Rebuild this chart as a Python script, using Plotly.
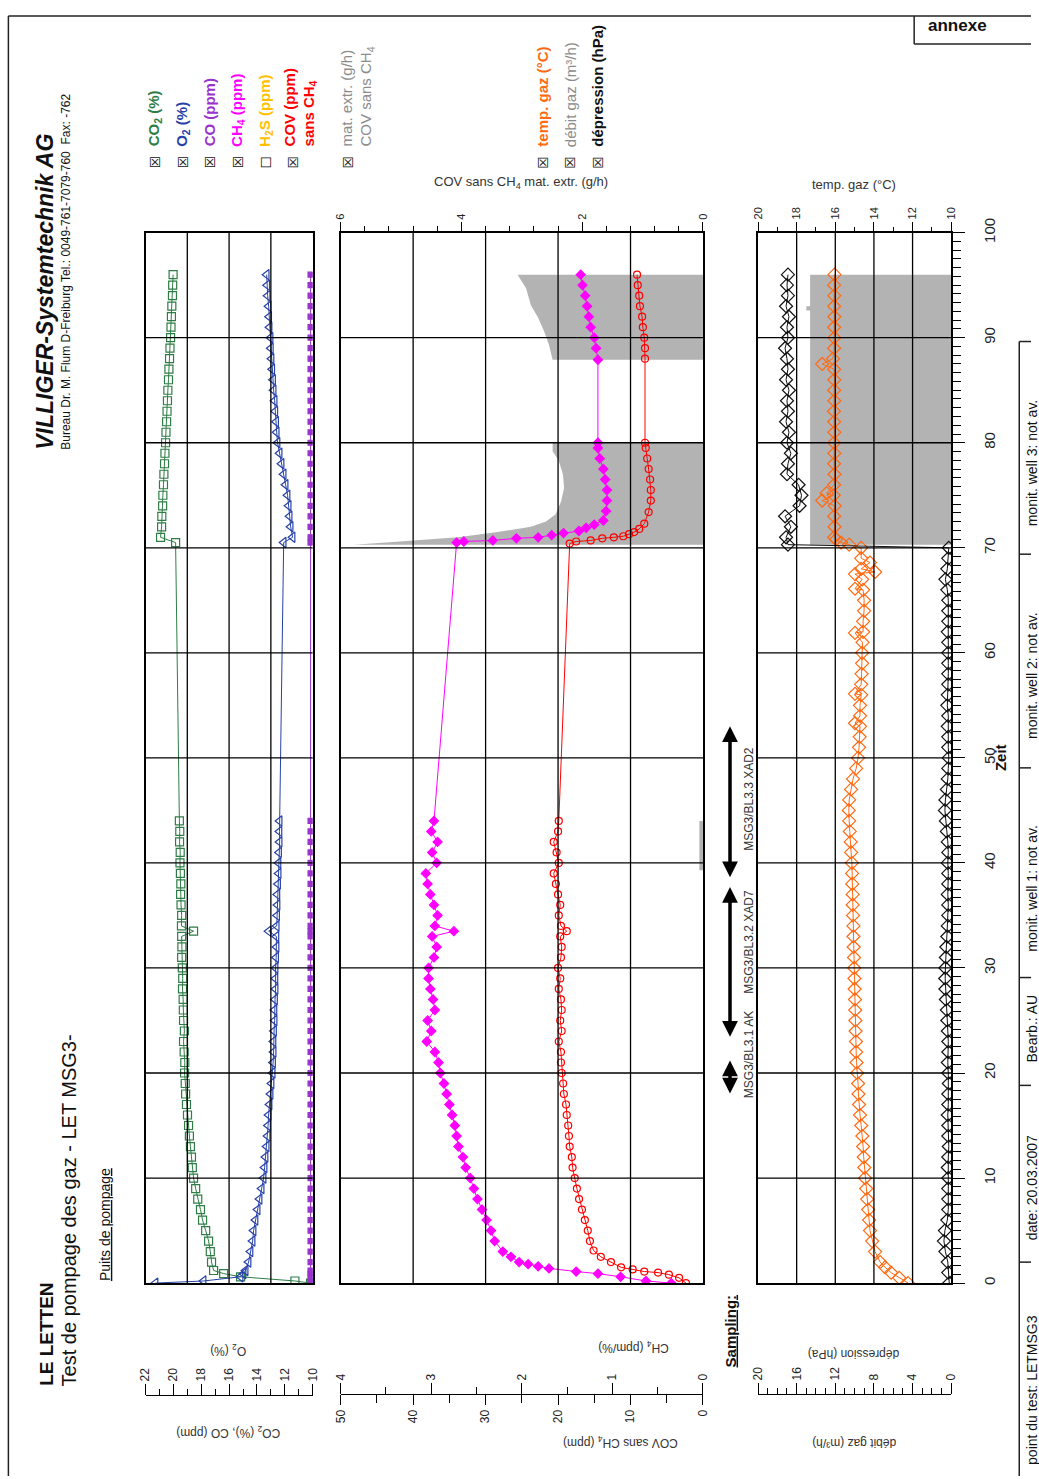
import plotly.graph_objects as go

W, H = 1039, 1479
# the sheet is laid out in sheet pixels; this maps them onto the figure canvas
AX, BX = 0.9857, 6.6
AY, BY = 0.990, 13.0
FONT = "Liberation Sans, Arial, Helvetica, sans-serif"
SYM = "DejaVu Sans, sans-serif"


def px(x):
    return min(max((x - BX) / AX, 0), W) / W


def py(y):
    return 1 - min(max((y - BY) / AY, 0), H) / H


TIME_DOM = [py(1283), py(231)]

# ---------------- gas composition at the pumping well ----------------
t_gas = [0, 0.2, 0.6, 0.9, 1.2, 2, 3, 4, 5, 6, 7, 8, 9, 10, 11, 12, 13, 14, 15, 16,
         17, 18, 19, 20, 21, 22, 23, 24, 25, 26, 27, 28, 29, 30, 31, 32, 33, 33.5, 34, 35,
         36, 37, 38, 39, 40, 41, 42, 43, 44, 70.5, 71, 72, 73, 74, 75, 76, 77, 78, 79, 80,
         81, 82, 83, 84, 85, 86, 87, 88, 89, 90, 91, 92, 93, 94, 95, 96]
co2 = [0.10, 0.85, 3.45, 4.26, 4.74,
       4.84, 4.90, 4.98, 5.12, 5.27, 5.37, 5.50, 5.60, 5.70, 5.76,
       5.80, 5.85, 5.90, 5.94, 5.99, 6.04, 6.08, 6.10, 6.13, 6.12,
       6.15, 6.18, 6.14, 6.18, 6.19, 6.20, 6.23, 6.22, 6.24, 6.27,
       6.26, 6.27, 5.70,
       6.28, 6.27, 6.30, 6.32, 6.31, 6.33, 6.35, 6.34, 6.37, 6.36, 6.38,
       6.56,
       7.28, 7.23, 7.22, 7.18, 7.17, 7.14, 7.12, 7.09, 7.07, 7.04,
       7.02, 6.99, 6.97, 6.95, 6.93, 6.90, 6.88, 6.85, 6.83, 6.80,
       6.78, 6.76, 6.74, 6.71, 6.70, 6.68]
o2 = [21.28, 17.83, 15.17, 14.96, 14.81,
      14.60, 14.46, 14.31, 14.24, 14.10, 13.95, 13.81, 13.66, 13.52, 13.45,
      13.38, 13.30, 13.23, 13.20, 13.16, 13.09, 13.02, 12.95, 12.87, 12.84,
      12.80, 12.81, 12.77, 12.73, 12.74, 12.70, 12.66, 12.67, 12.66, 12.62,
      12.59, 12.60, 13.16,
      12.58, 12.55, 12.52, 12.53, 12.48, 12.44, 12.45, 12.41, 12.37, 12.38, 12.37,
      12.08,
      11.44, 11.58, 11.65, 11.72, 11.80, 11.94, 12.08, 12.23, 12.37, 12.52,
      12.58, 12.62, 12.68, 12.73, 12.80, 12.84, 12.90, 12.95, 13.00, 13.02,
      13.09, 13.12, 13.16, 13.23, 13.26, 13.30]
co = [0.10, 0.10, 0.10, 0.10, 0.10, 0.10, 0.10, 0.10, 0.10, 0.10, 0.10, 0.10, 0.10, 0.10,
      0.10, 0.10, 0.10, 0.10, 0.10, 0.10, 0.10, 0.10, 0.10, 0.10, 0.10, 0.10, 0.10, 0.10,
      0.10, 0.10, 0.10, 0.10, 0.10, 0.10, 0.10, 0.10, 0.10, 0.10, 0.10, 0.10, 0.10, 0.10,
      0.10, 0.10, 0.10, 0.10, 0.10, 0.10, 0.10, 0.10, 0.10, 0.10, 0.10, 0.10, 0.10, 0.10,
      0.10, 0.10, 0.10, 0.10, 0.10, 0.10, 0.10, 0.10, 0.10, 0.10, 0.10, 0.10, 0.10, 0.10,
      0.10, 0.10, 0.10, 0.10, 0.10, 0.10]

# ---------------- CH4 and VOC ----------------
t_ch4 = [0, 0.2, 0.6, 0.9, 1.1, 1.4, 1.6, 1.8, 2.0, 2.5,
         3, 4, 5, 6, 7, 8, 9, 10, 11, 12, 13, 14, 15, 16, 17, 18, 19, 20, 21, 22,
         23, 24, 25, 26, 27, 28, 29, 30, 31, 32, 33, 33.5, 34, 35, 36, 37, 38, 39, 40, 41,
         42, 43, 44,
         70.5, 70.6, 70.7, 70.9, 71.0, 71.2, 71.4, 71.6, 71.9, 72.2, 72.6, 73.5, 74.5, 75.5,
         76.5, 77.5, 78.5, 79.5, 80, 87.9, 89, 90, 91, 92, 93, 94, 95, 96]
ch4 = [0.35, 0.63, 0.91, 1.16, 1.40, 1.70, 1.82, 1.93, 2.03, 2.12,
       2.21, 2.30, 2.34, 2.39, 2.44, 2.49, 2.53, 2.57, 2.62, 2.65,
       2.70, 2.72, 2.74, 2.77, 2.80, 2.83, 2.86, 2.90, 2.92, 2.96,
       3.05, 3.00, 3.04, 2.96, 2.98, 3.01, 3.03, 3.03, 2.97, 2.94,
       2.99, 2.75,
       2.96, 2.93, 2.97, 3.01, 3.04, 3.06, 2.94, 2.99, 2.93, 3.00, 2.97,
       2.72, 2.64, 2.32, 2.06, 1.82, 1.67, 1.54, 1.37, 1.29, 1.20, 1.10, 1.07, 1.06, 1.06,
       1.08, 1.10, 1.14, 1.16, 1.16, 1.16, 1.18, 1.20, 1.24, 1.26, 1.28, 1.30, 1.33, 1.35]

t_cov = [0, 0.5, 0.8, 1.0, 1.1, 1.3, 1.5, 2.0, 2.5, 3.1,
         4, 5, 6, 7, 8, 9, 10, 11, 12, 13, 14, 15, 16, 17, 18, 19, 20, 21, 22, 23,
         24, 25, 26, 27, 28, 29, 30, 31, 32, 33, 33.5, 34, 35, 36, 37, 38, 39, 40, 41, 42,
         43, 44,
         70.4, 70.6, 70.7, 70.9, 71.0, 71.1, 71.3, 71.5, 71.8, 72.3, 73.4, 74.5, 75.5, 76.5,
         77.5, 78.5, 79.5, 80, 88, 89, 90, 91, 92, 93, 94, 95, 96]
cov = [2.35, 3.3, 4.7, 6.2, 8.1, 9.7, 11.3, 12.7, 14.1, 15.1,
       15.6, 15.9, 16.3, 16.7, 17.1, 17.4, 17.7, 18.0, 18.1, 18.4,
       18.5, 18.6, 18.8, 18.9, 19.2, 19.3, 19.5, 19.6, 19.6, 19.9,
       19.5, 19.7, 19.5, 19.6, 19.9, 19.7, 20.0, 19.6, 19.5, 19.7,
       18.8,
       19.6, 19.9, 19.7, 20.0, 20.3, 20.6, 19.9, 20.2, 20.6, 20.0, 19.9,
       18.4, 17.5, 15.5, 13.9, 12.3, 11.0, 10.2, 9.5, 8.8, 8.1, 7.5, 7.2, 7.2, 7.3,
       7.5, 7.7, 7.9, 8.0, 8.0, 8.0, 8.1, 8.3, 8.4, 8.7, 8.8, 9.0, 9.1]

# extracted VOC load (g/h), outline of the shaded area
t_mat = [39.3, 39.3, 44, 44, 70.3, 70.3, 70.7, 71.0, 71.5, 72.0, 72.5, 73.2, 74.4, 75.7,
         77.0, 78.3, 79.2, 80, 80, 87.9, 87.9, 89.3, 90.6, 91.9, 93.1, 94.7, 96, 96]
mat_extr = [0, 0.06, 0.06, 0, 0, 5.78, 4.79, 4.06, 3.40, 2.85, 2.60, 2.44, 2.35, 2.30,
            2.32, 2.39, 2.49, 2.49, 0, 0, 2.49, 2.55, 2.63, 2.73, 2.85, 2.93, 3.07, 0]

# ---------------- gas temperature, vacuum, flow ----------------
t_temp = [0, 0.5, 1, 1.5, 2, 3, 4, 5, 6, 7, 8, 9, 10, 11, 12, 13, 14, 15, 16, 17,
          18, 19, 20, 21, 22, 23, 24, 25, 26, 27, 28, 29, 30, 31, 32, 33, 34, 35, 36, 37,
          38, 39, 40, 41, 42, 43, 44, 45, 46, 47, 48, 49, 50, 51, 52, 53, 53.3, 54, 55, 56,
          56.1, 57, 58, 59, 60, 61, 61.9, 62, 63, 64, 65, 66, 66.1, 67, 67.5, 67.7, 68, 68.6,
          69, 70, 70.3, 70.5, 70.8, 71, 72, 73, 74, 74.5, 75, 75.2, 76, 77, 78, 79, 80, 81,
          82, 83, 84, 85, 86, 87, 87.5, 88, 89, 90, 91, 92, 93, 94, 95, 96]
temp = [12.23, 12.69, 13.11, 13.42, 13.68, 13.94, 14.09, 14.20, 14.25, 14.30,
        14.35, 14.40, 14.46, 14.50, 14.53, 14.56, 14.60, 14.66, 14.72, 14.77,
        14.80, 14.82, 14.87, 14.90, 14.92, 14.93, 14.95, 14.96, 14.97, 14.98,
        15.00, 15.01, 15.02, 15.03, 15.05, 15.06, 15.06, 15.08, 15.10, 15.10,
        15.12, 15.13, 15.14, 15.18, 15.20, 15.25, 15.28, 15.30, 15.28, 15.18,
        15.08, 14.92, 14.82, 14.77, 14.74, 14.72,
        14.98, 14.72, 14.72, 14.66,
        14.98, 14.66, 14.64, 14.61, 14.61, 14.59,
        14.98, 14.56, 14.56, 14.51, 14.51, 14.56,
        14.98, 14.61, 14.98, 13.94, 14.66, 14.20, 14.66, 14.66,
        15.28, 15.70, 15.96, 16.06,
        16.04, 16.06, 16.03, 16.68, 16.08, 16.45, 16.06,
        16.04, 16.06, 16.05, 16.06, 16.05, 16.06, 16.07, 16.05, 16.06, 16.05, 16.06,
        16.68,
        16.12, 16.06, 16.05, 16.06, 16.05, 16.06, 16.05, 16.06, 16.04]

t_dep = [0, 1, 2, 3, 4, 5, 6, 7, 8, 9, 10, 11, 12, 13, 14, 15, 16, 17, 18, 19,
         20, 21, 22, 23, 24, 25, 26, 27, 28, 29, 30, 31, 32, 33, 34, 35, 36, 37, 38, 39,
         40, 41, 42, 43, 44, 45, 46, 47, 48, 49, 50, 51, 52, 53, 54, 55, 56, 57, 58, 59,
         60, 61, 62, 63, 64, 65, 66, 67, 68, 69, 70, 70.3, 71, 72, 73, 74, 75, 76, 77, 78,
         79, 80, 81, 82, 83, 84, 85, 86, 87, 88, 89, 90, 91, 92, 93, 94, 95, 96]
depression = [0.20, 0.30, 0.35, 0.60, 0.75, 0.65, 0.40, 0.30, 0.30, 0.30,
              0.30, 0.35, 0.30, 0.25, 0.30, 0.30, 0.35, 0.30, 0.30, 0.25,
              0.30, 0.35, 0.30, 0.30, 0.35, 0.40, 0.45, 0.55, 0.60, 0.62,
              0.60, 0.55, 0.50, 0.40, 0.35, 0.30, 0.30, 0.35, 0.30, 0.30,
              0.35, 0.30, 0.35, 0.45, 0.55, 0.65, 0.60, 0.45, 0.35, 0.30,
              0.25, 0.30, 0.30, 0.35, 0.30, 0.40, 0.35, 0.30, 0.30, 0.30,
              0.30, 0.30, 0.35, 0.30, 0.30, 0.30, 0.40, 0.60, 0.40, 0.30,
              0.25, 16.9, 17.1, 16.6, 17.2, 15.7, 15.5, 15.8, 17.0, 16.9,
              16.6, 17.0, 16.8, 17.1, 16.9, 17.0, 16.8, 17.1, 16.9, 17.0,
              17.2, 16.9, 17.0, 16.8, 17.1, 16.9, 17.0, 16.9]

# gas flow (m3/h), outline of the shaded area
t_debit = [70.3, 70.3, 92.6, 92.6, 93.0, 93.0, 96, 96]
debit = [0, 160.7, 160.7, 165, 165, 160.7, 160.7, 0]

# sampling campaigns (start, end in time units)
sampling_labels = ["MSG3/BL3.1 AK", "MSG3/BL3.2 XAD7", "MSG3/BL3.3 XAD2"]
sampling_start = [17.9, 23.3, 38.5]
sampling_end = [21.2, 37.7, 53.0]
sampling_label_t = [21.7, 32.5, 46.1]

info_cells = ["point du test: LETMSG3", "date: 20.03.2007", "Bearb.: AU",
              "monit. well 1: not av.", "monit. well 2: not av.", "monit. well 3: not av."]

C_CO2 = "#2e7d46"
C_O2 = "#2842a8"
C_CO = "#9933cc"
C_CH4 = "#ff00ff"
C_H2S = "#ffc000"
C_COV = "#ff0000"
C_MAT = "#b3b3b3"
C_TEMP = "#ff6a13"
C_DEP = "#111111"
C_GRAYTXT = "#8c8c8c"

fig = go.Figure()

# shaded areas first so that curves stay on top
fig.add_trace(go.Scatter(x=mat_extr, y=t_mat, xaxis="x4", yaxis="y2", mode="lines",
                         fill="toself", fillcolor=C_MAT, line=dict(width=0), hoverinfo="skip"))
fig.add_trace(go.Scatter(x=debit, y=t_debit, xaxis="x7", yaxis="y3", mode="lines",
                         fill="toself", fillcolor=C_MAT, line=dict(width=0), hoverinfo="skip"))


def series(x, y, xa, ya, color, symbol, size, lw=1.0):
    return go.Scatter(x=x, y=y, xaxis=xa, yaxis=ya, mode="lines+markers",
                      line=dict(color=color, width=lw),
                      marker=dict(symbol=symbol, size=size, color=color,
                                  line=dict(width=1.2, color=color)),
                      hoverinfo="skip")


fig.add_trace(series(co2, t_gas, "x", "y", C_CO2, "square-open", 8))
fig.add_trace(series(o2, t_gas, "x2", "y", C_O2, "triangle-left-open", 9))
fig.add_trace(series(co, t_gas, "x", "y", C_CO, "square", 5))
fig.add_trace(series(cov, t_cov, "x5", "y2", C_COV, "circle-open", 7))
fig.add_trace(series(ch4, t_ch4, "x6", "y2", C_CH4, "diamond", 7))
fig.add_trace(series(temp, t_temp, "x8", "y3", C_TEMP, "diamond-open", 10))
fig.add_trace(series(depression, t_dep, "x9", "y3", C_DEP, "diamond-open", 10))


# ---------------- axes ----------------
def merge(*parts, **extra):
    out = {}
    for p in parts:
        out.update(p)
    out.update(extra)
    return out


base = dict(showgrid=False, zeroline=False)
frame = dict(showline=True, mirror=True, linecolor="black", linewidth=1.5,
             layer="above traces")
hidden = dict(showticklabels=False, ticks="")
free_line = dict(showline=True, linecolor="black", linewidth=1.2)


def tickax(size=12):
    return dict(ticks="outside", tickcolor="black", tickwidth=1, tickangle=-90,
                tickfont=dict(family=FONT, size=size, color="#222"))


def minor(d, length):
    return dict(dtick=d, ticklen=length, ticks="outside", tickcolor="black", showgrid=False)


layout_axes = dict(
    xaxis=merge(base, frame, hidden, domain=[px(145), px(312)], range=[8, 0], anchor="y"),
    yaxis=merge(base, frame, hidden, domain=TIME_DOM, range=[0, 100], anchor="x"),
    xaxis2=merge(base, free_line, tickax(12), overlaying="x", range=[22, 10], anchor="free",
                 position=py(1395), side="top", dtick=2, tick0=10, ticklen=11,
                 minor=minor(1, 6)),
    xaxis3=merge(base, free_line, tickax(12), overlaying="x", range=[8, 0], anchor="free",
                 position=py(1395), side="bottom", dtick=2, tick0=0, ticklen=7,
                 minor=minor(0.5, 4)),
    xaxis4=merge(base, frame, tickax(11), domain=[px(340), px(702)], range=[6, 0],
                 anchor="y2", side="top", dtick=2, tick0=0, ticklen=9, minor=minor(0.4, 5)),
    yaxis2=merge(base, frame, hidden, domain=TIME_DOM, range=[0, 100], anchor="x4"),
    xaxis5=merge(base, free_line, tickax(12), overlaying="x4", range=[50, 0], anchor="free",
                 position=py(1394), side="bottom", dtick=10, tick0=0, ticklen=10,
                 minor=minor(5, 8)),
    xaxis6=merge(base, free_line, tickax(12), overlaying="x4", range=[4, 0], anchor="free",
                 position=py(1394), side="top", dtick=1, tick0=0, ticklen=11,
                 minor=minor(0.5, 7)),
    xaxis7=merge(base, frame, hidden, domain=[px(757), px(950)], range=[220, 0], anchor="y3"),
    yaxis3=merge(base, frame, tickax(15), domain=TIME_DOM, range=[0, 100], anchor="x7",
                 side="right", dtick=10, tick0=0, ticklen=12, minor=minor(10 / 12, 8),
                 ticklabelstandoff=12),
    xaxis8=merge(base, tickax(11), overlaying="x7", range=[20, 10], anchor="y3", side="top",
                 dtick=2, tick0=10, ticklen=10, minor=minor(1, 5), showline=False),
    xaxis9=merge(base, free_line, tickax(12), overlaying="x7", range=[20, 0], anchor="free",
                 position=py(1394), side="top", dtick=4, tick0=0, ticklen=11,
                 minor=minor(1, 6)),
    xaxis10=merge(base, free_line, tickax(12), overlaying="x7", range=[220, 0], anchor="free",
                  position=py(1394), side="bottom", dtick=50, tick0=0, ticklen=9,
                  minor=minor(25, 6)),
)

# ---------------- grid lines (drawn above the shaded areas) ----------------
shapes = []
GRID = dict(color="black", width=1.3)
for xa, ya, dom, vals in [("x", "y", "x", [2, 4, 6]),
                          ("x5", "y2", "x4", [10, 20, 30, 40]),
                          ("x8", "y3", "x7", [12, 14, 16, 18])]:
    for v in vals:
        shapes.append(dict(type="line", xref=xa, yref=f"{ya} domain", x0=v, x1=v, y0=0, y1=1,
                           line=GRID, layer="above"))
    for t in range(10, 100, 10):
        shapes.append(dict(type="line", xref=f"{dom} domain", yref=ya, x0=0, x1=1, y0=t, y1=t,
                           line=GRID, layer="above"))

PAGE = dict(color="#222", width=1.5)
EDGE_X, EDGE_Y = 1.0 / W, 1.0 / H


def pline(x0, y0, x1, y1):
    def cx(v):
        return min(max(px(v), EDGE_X), 1 - EDGE_X)

    def cy(v):
        return min(max(py(v), EDGE_Y), 1 - EDGE_Y)

    return dict(type="line", xref="paper", yref="paper", x0=cx(x0), y0=cy(y0),
                x1=cx(x1), y1=cy(y1), line=PAGE, layer="above")


shapes += [
    pline(8, 4, 8, H), pline(8, 4, W, 4),
    pline(913, 4, 913, 42), pline(913, 42, W, 42),
    pline(1018, 340, 1018, H), pline(1018, 340, W, 340),
]
for ys in [553, 767, 977, 1085, 1262]:
    shapes.append(pline(1018, ys, W, ys))

# ---------------- text ----------------
ann = []


def txt(x, y, s, size=12, color="#222", angle=-90, xanchor="center", yanchor="middle",
        family=FONT, align="center"):
    ann.append(dict(x=px(x), y=py(y), xref="paper", yref="paper", text=s, showarrow=False,
                    textangle=angle, xanchor=xanchor, yanchor=yanchor, align=align,
                    font=dict(family=family, size=size, color=color)))


txt(45, 450, "<b><i>VILLIGER-Systemtechnik AG</i></b>", size=23, color="#111", yanchor="bottom")
txt(66, 450, "Bureau Dr. M. Flum D-Freiburg Tel.: 0049-761-7079-760  Fax: -762", size=12,
    color="#111", yanchor="bottom")
txt(46, 1388, "<b>LE LETTEN</b>", size=19, color="#111", yanchor="bottom")
txt(68, 1388, "Test de pompage des gaz - LET MSG3-", size=20, color="#111", yanchor="bottom")
txt(104, 1283, "<u>Puits de pompage</u>", size=14, color="#111", yanchor="bottom")
txt(729, 1370, "<b><u>Sampling:</u></b>", size=15, color="#111", yanchor="bottom")
txt(1000, 757, "<b>Zeit</b>", size=15, color="#111")

# series legend
legend = [
    (154, "<b>CO<sub>2</sub> (%)</b>", C_CO2, "\u2612"),
    (182, "<b>O<sub>2</sub> (%)</b>", C_O2, "\u2612"),
    (209, "<b>CO (ppm)</b>", C_CO, "\u2612"),
    (237, "<b>CH<sub>4</sub> (ppm)</b>", C_CH4, "\u2612"),
    (265, "<b>H<sub>2</sub>S (ppm)</b>", C_H2S, "\u2610"),
    (300, "<b>COV (ppm)<br>sans CH<sub>4</sub></b>", C_COV, "\u2612"),
    (357, "mat. extr. (g/h)<br>COV sans CH<sub>4</sub>", C_GRAYTXT, "\u2612"),
    (542, "<b>temp. gaz (°C)</b>", C_TEMP, "\u2612"),
    (569, "débit gaz (m³/h)", C_GRAYTXT, "\u2612"),
    (597, "<b>dépression (hPa)</b>", C_DEP, "\u2612"),
]
box_x = [154, 182, 209, 237, 265, 292, 347, 542, 569, 597]
for (xc, label, color, box), bx in zip(legend, box_x):
    txt(bx, 160, box, size=14, color="#111", family=SYM)
    txt(xc, 147, label, size=15, color=color, yanchor="bottom", align="left")

# axis titles
txt(520, 181, "COV sans CH<sub>4</sub> mat. extr. (g/h)", size=13, color="#333", angle=0)
txt(853, 183, "temp. gaz (°C)", size=13, color="#333", angle=0)
txt(228, 1350, "O<sub>2</sub> (%)", size=12, color="#333", angle=180)
txt(228, 1432, "CO<sub>2</sub> (%), CO (ppm)", size=12, color="#333", angle=180)
txt(632, 1347, "CH<sub>4</sub> (ppm/%)", size=12, color="#333", angle=180)
txt(619, 1442, "COV sans CH<sub>4</sub> (ppm)", size=12, color="#333", angle=180)
txt(853, 1354, "dépression (hPa)", size=12, color="#333", angle=180)
txt(853, 1443, "débit gaz (m³/h)", size=12, color="#333", angle=180)

# annex box and info strip
txt(956, 24, "<b>annexe</b>", size=17, color="#111", angle=0)
for label, yc in zip(info_cells, [1390, 1188, 1028, 888, 675, 462]):
    txt(1031, yc, label, size=14, color="#111")

# sampling periods
for label, t0, t1, tl in zip(sampling_labels, sampling_start, sampling_end, sampling_label_t):
    ann.append(dict(x=px(729), xref="paper", y=t1, yref="y3", ax=0, axref="pixel",
                    ay=t0, ayref="y3", text="", showarrow=True, arrowhead=2,
                    arrowside="end+start", arrowsize=0.9, arrowwidth=3.5, arrowcolor="black",
                    standoff=0, startstandoff=0))
    ann.append(dict(x=px(748), xref="paper", y=tl, yref="y3", text=label, showarrow=False,
                    textangle=-90, xanchor="center", yanchor="middle",
                    font=dict(family=FONT, size=12, color="#333")))

fig.update_layout(
    width=W, height=H, margin=dict(l=0, r=0, t=0, b=0),
    paper_bgcolor="white", plot_bgcolor="white", showlegend=False,
    font=dict(family=FONT, color="#222"),
    shapes=shapes, annotations=ann,
    **layout_axes,
)

fig.write_html("out.html")
